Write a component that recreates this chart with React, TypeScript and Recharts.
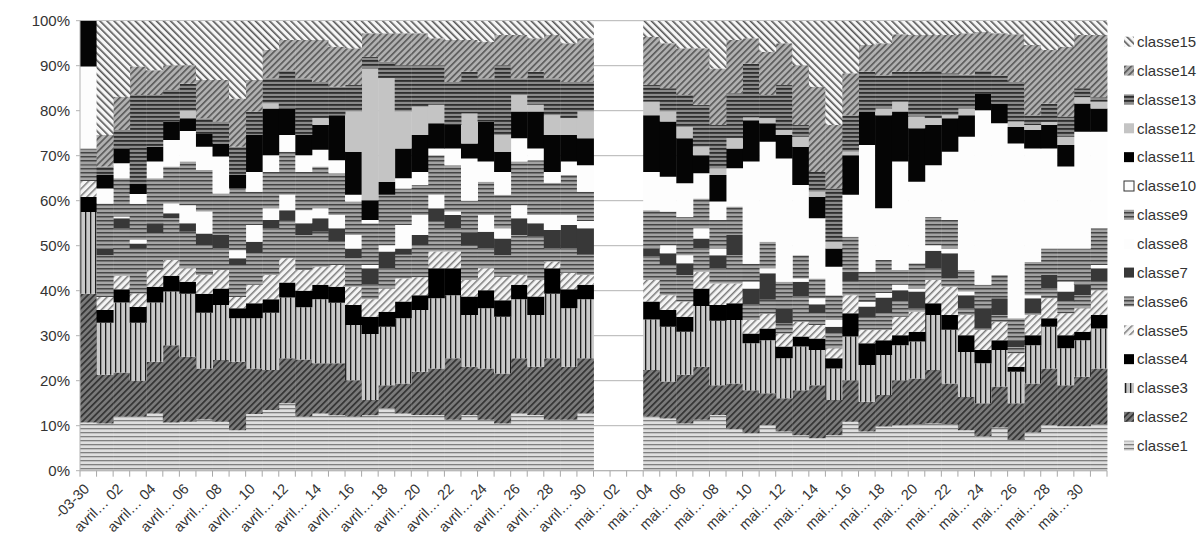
import { BarChart, Bar, XAxis, YAxis, CartesianGrid } from "recharts";

// one bar per day, 31 mars -> 31 mai (1-3 mai sans données)
const days = [
    "03-31",
    "04-01", "04-02", "04-03", "04-04", "04-05", "04-06", "04-07", "04-08", "04-09", "04-10",
    "04-11", "04-12", "04-13", "04-14", "04-15", "04-16", "04-17", "04-18", "04-19", "04-20",
    "04-21", "04-22", "04-23", "04-24", "04-25", "04-26", "04-27", "04-28", "04-29", "04-30",
    "05-01", "05-02", "05-03", "05-04", "05-05", "05-06", "05-07", "05-08", "05-09", "05-10",
    "05-11", "05-12", "05-13", "05-14", "05-15", "05-16", "05-17", "05-18", "05-19", "05-20",
    "05-21", "05-22", "05-23", "05-24", "05-25", "05-26", "05-27", "05-28", "05-29", "05-30",
    "05-31",
];

// shown under every second bar
const tickLabels = [
    "-03-30",
    "avril… 02", "avril… 04", "avril… 06", "avril… 08", "avril… 10",
    "avril… 12", "avril… 14", "avril… 16", "avril… 18", "avril… 20",
    "avril… 22", "avril… 24", "avril… 26", "avril… 28", "avril… 30",
    "mai… 02", "mai… 04", "mai… 06", "mai… 08", "mai… 10",
    "mai… 12", "mai… 14", "mai… 16", "mai… 18", "mai… 20",
    "mai… 22", "mai… 24", "mai… 26", "mai… 28", "mai… 30",
];

const yTicks = [0, 10, 20, 30, 40, 50, 60, 70, 80, 90, 100];

// cumulative share (%) reached at the top of each class
const top1 = [10.7, 10.5, 12.0, 12.0, 12.7, 10.7, 10.9, 11.4, 10.9, 9.0,
    12.6, 13.5, 15.0, 12.0, 12.7, 12.3, 12.0, 12.3, 13.9, 12.7,
    12.4, 12.4, 11.3, 12.4, 11.3, 10.5, 12.7, 12.4, 11.3, 11.3,
    12.7, null, null, null, 12.0, 11.6, 10.5, 11.3, 12.4, 9.2,
    8.3, 10.1, 8.7, 7.9, 7.2, 7.9, 10.9, 8.7, 9.8, 10.1,
    10.4, 10.5, 10.4, 9.0, 7.6, 9.6, 6.8, 8.5, 10.1, 9.9,
    9.9, 10.4];
const top2 = [39.3, 21.3, 21.8, 20.0, 24.2, 27.9, 25.3, 22.7, 24.6, 24.2,
    22.7, 22.4, 25.0, 24.7, 23.9, 23.9, 20.1, 15.7, 19.0, 19.4,
    22.0, 22.7, 25.0, 23.1, 22.7, 21.6, 25.0, 23.1, 25.0, 23.1,
    25.0, null, null, null, 22.4, 19.8, 21.3, 23.1, 19.0, 19.4,
    17.9, 17.2, 16.1, 17.9, 19.0, 15.7, 20.1, 15.3, 16.8, 20.1,
    20.5, 22.4, 19.4, 16.4, 15.0, 18.7, 15.0, 19.4, 22.7, 19.0,
    20.9, 22.7];
const top3 = [57.5, 32.9, 37.4, 32.9, 37.4, 39.8, 39.3, 35.1, 36.8, 33.9,
    33.9, 35.1, 38.5, 36.3, 38.1, 37.3, 32.4, 30.4, 32.0, 33.9,
    35.7, 38.3, 39.0, 34.6, 36.1, 34.2, 38.1, 34.6, 39.3, 36.1,
    38.1, null, null, null, 33.6, 32.0, 30.9, 36.6, 33.3, 33.5,
    28.3, 29.0, 25.0, 27.6, 26.8, 22.7, 29.8, 23.5, 25.7, 27.9,
    28.7, 34.6, 31.3, 26.4, 23.9, 26.8, 22.0, 27.9, 32.0, 27.2,
    29.0, 31.6];
const top4 = [60.8, 35.7, 40.3, 36.4, 40.9, 43.3, 42.0, 39.3, 40.5, 36.1,
    37.2, 38.1, 41.8, 40.0, 41.3, 40.9, 36.8, 34.2, 35.3, 37.6,
    39.0, 45.0, 45.0, 38.7, 40.1, 37.9, 41.3, 38.7, 45.0, 40.3,
    41.3, null, null, null, 37.6, 35.7, 34.2, 40.5, 36.8, 37.2,
    30.5, 31.6, 27.6, 29.8, 29.4, 25.0, 35.0, 28.3, 29.0, 30.1,
    30.9, 37.2, 34.6, 30.1, 26.8, 29.0, 23.1, 30.1, 33.9, 30.1,
    30.9, 34.6];
const top5 = [64.4, 38.6, 43.3, 39.4, 44.6, 46.8, 45.0, 43.5, 44.6, 38.6,
    41.3, 43.5, 47.2, 44.6, 45.3, 45.7, 40.9, 38.1, 40.5, 42.7,
    43.0, 48.7, 48.7, 42.4, 45.0, 43.1, 43.5, 42.4, 46.5, 44.0,
    43.5, null, null, null, 42.4, 39.0, 37.6, 44.2, 41.6, 41.6,
    33.5, 34.9, 30.5, 33.1, 32.4, 27.2, 39.0, 31.3, 31.3, 34.2,
    35.3, 42.4, 40.9, 34.6, 31.3, 33.1, 26.1, 34.6, 38.3, 35.0,
    36.1, 40.1];
const top6 = [68.0, 47.9, 53.9, 49.5, 52.7, 56.1, 53.1, 50.1, 49.4, 45.7,
    48.3, 53.9, 55.7, 52.4, 53.1, 50.9, 47.2, 41.3, 45.0, 48.0,
    50.1, 55.3, 53.9, 50.0, 49.4, 47.9, 52.4, 52.0, 49.4, 49.4,
    48.0, null, null, null, 47.6, 45.7, 43.5, 49.4, 45.0, 47.9,
    37.0, 38.0, 32.7, 38.7, 35.0, 30.5, 42.0, 34.0, 35.0, 37.6,
    36.1, 45.0, 42.7, 36.1, 31.6, 34.6, 27.5, 35.0, 40.5, 37.6,
    39.0, 42.0];
const top7 = [68.0, 49.4, 56.1, 50.5, 55.0, 57.2, 55.0, 52.7, 52.4, 47.2,
    50.9, 55.7, 57.9, 55.0, 56.1, 53.9, 49.4, 45.0, 48.7, 49.4,
    52.4, 58.3, 56.8, 53.0, 53.1, 51.6, 56.1, 55.0, 53.5, 54.6,
    53.9, null, null, null, 49.4, 48.3, 46.1, 51.6, 47.9, 52.4,
    40.5, 43.9, 36.1, 42.0, 37.0, 32.0, 44.2, 36.5, 38.5, 40.1,
    39.8, 48.9, 48.3, 39.0, 36.1, 38.3, 29.0, 38.3, 43.5, 39.8,
    41.3, 45.0];
const top8 = [68.0, 49.4, 56.5, 51.3, 55.0, 59.4, 59.0, 57.6, 52.4, 49.0,
    54.6, 58.3, 61.3, 57.9, 58.3, 56.8, 52.4, 45.7, 50.1, 54.6,
    56.8, 61.3, 57.6, 53.0, 56.8, 53.9, 59.0, 56.8, 56.8, 56.8,
    55.5, null, null, null, 49.4, 50.1, 47.9, 53.9, 49.4, 52.4,
    42.0, 45.0, 36.1, 42.7, 38.3, 33.5, 44.2, 37.5, 39.5, 41.3,
    40.5, 50.1, 49.4, 39.8, 36.1, 38.3, 29.0, 39.0, 43.5, 42.0,
    41.3, 45.7];
const top9 = [71.6, 59.4, 65.0, 59.3, 65.0, 67.6, 68.7, 66.8, 61.6, 62.7,
    62.0, 66.4, 70.9, 66.4, 67.6, 66.1, 59.8, 55.0, 61.3, 62.7,
    63.5, 70.1, 67.9, 60.0, 64.2, 61.3, 68.7, 69.0, 64.0, 65.7,
    62.0, null, null, null, 57.9, 57.6, 56.4, 60.5, 55.7, 58.7,
    46.0, 50.9, 42.0, 47.9, 42.7, 39.0, 52.0, 44.2, 46.8, 44.6,
    46.1, 56.4, 55.7, 44.6, 41.3, 43.5, 33.9, 46.4, 49.4, 49.4,
    49.4, 53.9];
const top10 = [89.8, 62.7, 68.3, 61.5, 68.7, 73.5, 75.5, 72.0, 69.8, 62.7,
    66.4, 70.1, 74.6, 70.1, 71.3, 69.0, 61.3, 55.7, 61.3, 65.0,
    66.4, 71.6, 71.6, 69.4, 68.7, 66.4, 73.9, 71.6, 66.4, 68.7,
    67.9, null, null, null, 66.4, 65.3, 63.9, 66.1, 59.8, 67.2,
    68.7, 73.1, 69.4, 63.5, 56.1, 45.3, 61.3, 72.4, 58.3, 68.7,
    64.2, 67.9, 70.9, 74.2, 80.1, 77.2, 72.7, 71.6, 71.6, 67.6,
    75.3, 75.3];
const top11 = [100, 65.7, 71.6, 63.7, 72.0, 77.6, 78.3, 75.0, 72.7, 65.7,
    74.6, 80.5, 80.5, 74.6, 76.8, 79.0, 70.9, 60.1, 64.2, 71.6,
    74.6, 77.2, 76.8, 72.7, 77.6, 70.9, 79.8, 79.8, 74.6, 74.6,
    73.9, null, null, null, 79.0, 77.6, 73.9, 70.1, 65.7, 71.6,
    77.9, 77.2, 74.6, 72.0, 60.9, 49.4, 70.1, 79.8, 79.0, 79.8,
    76.1, 76.8, 78.3, 79.0, 83.9, 81.6, 76.4, 75.7, 76.8, 72.4,
    81.6, 80.5];
const top12 = [100, 65.7, 71.6, 63.7, 72.0, 77.6, 80.0, 75.0, 72.7, 65.7,
    74.6, 81.6, 80.5, 74.6, 78.3, 79.0, 79.8, 89.4, 87.2, 79.8,
    80.9, 81.3, 76.8, 79.4, 77.6, 74.6, 83.5, 81.3, 79.0, 78.3,
    79.8, null, null, null, 82.0, 79.8, 76.4, 72.0, 67.2, 73.9,
    78.5, 78.3, 75.7, 74.2, 62.0, 50.9, 70.9, 79.8, 80.5, 82.0,
    78.7, 78.3, 79.0, 80.5, 83.9, 81.6, 77.6, 76.8, 77.5, 74.2,
    83.0, 82.0];
const top13 = [100, 67.6, 75.7, 83.5, 83.5, 84.6, 86.0, 78.3, 77.6, 72.0,
    79.8, 87.2, 89.0, 87.2, 86.4, 85.3, 85.7, 92.0, 90.9, 90.1,
    90.1, 90.1, 86.4, 88.7, 87.2, 90.1, 87.2, 88.7, 87.2, 86.4,
    86.4, null, null, null, 85.7, 85.0, 83.5, 81.3, 76.8, 83.9,
    90.5, 83.5, 85.7, 76.8, 66.4, 62.7, 79.0, 88.7, 87.9, 88.7,
    88.7, 89.0, 88.3, 88.0, 89.0, 87.9, 86.4, 79.0, 81.6, 78.7,
    85.0, 83.0];
const top14 = [100, 74.6, 83.1, 89.8, 89.0, 90.1, 90.1, 86.8, 86.8, 82.7,
    86.8, 93.5, 95.7, 95.7, 95.7, 94.2, 93.9, 97.2, 97.2, 97.2,
    97.2, 96.1, 95.7, 95.7, 95.3, 96.8, 96.8, 96.1, 96.8, 95.0,
    96.1, null, null, null, 96.4, 95.0, 93.9, 93.9, 89.4, 95.7,
    96.1, 93.1, 95.0, 90.1, 85.3, 76.8, 88.3, 94.6, 95.0, 97.0,
    96.8, 96.8, 96.8, 97.2, 97.5, 97.2, 97.0, 94.6, 93.5, 94.2,
    96.8, 96.8];

const classes = [
    "classe1", "classe2", "classe3", "classe4", "classe5", "classe6", "classe7", "classe8",
    "classe9", "classe10", "classe11", "classe12", "classe13", "classe14", "classe15",
];

const tops = [top1, top2, top3, top4, top5, top6, top7, top8, top9, top10, top11, top12, top13, top14];

// each class = its top minus the top of the class below; classe15 fills up to 100 %
const data = days.map((day, i) => {
    const row: Record<string, string | number> = { day };
    if (top1[i] === null) return row;
    let prev = 0;
    tops.forEach((serie, k) => {
        const t = serie[i] as number;
        row[classes[k]] = t - prev;
        prev = t;
    });
    row.classe15 = 100 - prev;
    return row;
});

const PLOT_LEFT = 80;
const PLOT_RIGHT = 1107;
const BAND = (PLOT_RIGHT - PLOT_LEFT) / days.length;

const DayTick = (props: any) => {
    const { x, y, payload } = props;
    const i = days.indexOf(payload.value);
    const label = i % 2 === 0 ? tickLabels[i / 2] : "";
    return (
        <g>
            <line x1={x - BAND / 2} x2={x - BAND / 2} y1={y} y2={y + 6} stroke="#a8a8a8" />
            {i === days.length - 1 && (
                <line x1={x + BAND / 2} x2={x + BAND / 2} y1={y} y2={y + 6} stroke="#a8a8a8" />
            )}
            {label && (
                <text
                    transform={`translate(${x + 2},${y + 19}) rotate(-45)`}
                    textAnchor="end"
                    fontSize={14.5}
                    fill="#333"
                >
                    {label}
                </text>
            )}
        </g>
    );
};

const App = () => {
    return (
        <div
            style={{
                position: "absolute",
                left: 0,
                top: 0,
                width: 1204,
                height: 548,
                background: "#fff",
                fontFamily: '"Liberation Sans", Arial, sans-serif',
            }}
        >
            <BarChart
                width={1204}
                height={548}
                data={data}
                margin={{ top: 20.7, right: 97, bottom: 0, left: 0 }}
                barCategoryGap={0}
                barGap={0}
            >
                <defs>
                    {/* classe1: light, horizontal lines */}
                    <pattern id="p1" width="4" height="4" patternUnits="userSpaceOnUse">
                        <rect width="4" height="4" fill="#dedede" />
                        <rect width="4" height="1.3" fill="#808080" />
                    </pattern>
                    {/* classe2: dark, / hatch */}
                    <pattern id="p2" width="4.5" height="4.5" patternUnits="userSpaceOnUse" patternTransform="rotate(45)">
                        <rect width="4.5" height="4.5" fill="#7a7a7a" />
                        <rect width="1.7" height="4.5" fill="#333" />
                    </pattern>
                    {/* classe3: vertical lines */}
                    <pattern id="p3" width="5" height="5" patternUnits="userSpaceOnUse">
                        <rect width="5" height="5" fill="#c8c8c8" />
                        <rect width="1.3" height="5" fill="#1c1c1c" />
                    </pattern>
                    {/* classe5: light, / hatch */}
                    <pattern id="p5" width="5" height="5" patternUnits="userSpaceOnUse" patternTransform="rotate(45)">
                        <rect width="5" height="5" fill="#f4f4f4" />
                        <rect width="1.5" height="5" fill="#7a7a7a" />
                    </pattern>
                    {/* classe6 / classe9: mid grey stripes */}
                    <pattern id="p6" width="4" height="4" patternUnits="userSpaceOnUse">
                        <rect width="4" height="4" fill="#a6a6a6" />
                        <rect width="4" height="1.5" fill="#484848" />
                    </pattern>
                    <pattern id="p9" width="4" height="4" patternUnits="userSpaceOnUse">
                        <rect width="4" height="4" fill="#a2a2a2" />
                        <rect width="4" height="1.5" fill="#444" />
                    </pattern>
                    {/* classe13: dark stripes */}
                    <pattern id="p13" width="4" height="4" patternUnits="userSpaceOnUse">
                        <rect width="4" height="4" fill="#8a8a8a" />
                        <rect width="4" height="1.8" fill="#2e2e2e" />
                    </pattern>
                    {/* classe14: grey, / hatch */}
                    <pattern id="p14" width="4.5" height="4.5" patternUnits="userSpaceOnUse" patternTransform="rotate(45)">
                        <rect width="4.5" height="4.5" fill="#b0b0b0" />
                        <rect width="1.6" height="4.5" fill="#585858" />
                    </pattern>
                    {/* classe15: light, \ hatch */}
                    <pattern id="p15" width="5" height="5" patternUnits="userSpaceOnUse" patternTransform="rotate(-45)">
                        <rect width="5" height="5" fill="#f6f6f6" />
                        <rect width="1.6" height="5" fill="#555" />
                    </pattern>
                </defs>

                <CartesianGrid vertical={false} stroke="#b3b3b3" />

                <XAxis
                    dataKey="day"
                    interval={0}
                    height={77.3}
                    tickSize={0}
                    tickMargin={0}
                    tickLine={false}
                    axisLine={{ stroke: "#b3b3b3" }}
                    tick={<DayTick />}
                />
                <YAxis
                    width={80}
                    domain={[0, 100]}
                    ticks={yTicks}
                    allowDataOverflow
                    tickFormatter={(v) => `${v}%`}
                    tick={{ fontSize: 15, fill: "#333" }}
                    tickSize={4}
                    tickMargin={6}
                    axisLine={{ stroke: "#b3b3b3" }}
                    tickLine={{ stroke: "#b3b3b3" }}
                />
                <YAxis
                    yAxisId="frame"
                    orientation="right"
                    width={0}
                    tick={false}
                    tickLine={false}
                    axisLine={{ stroke: "#b3b3b3" }}
                />

                <Bar dataKey="classe1" stackId="s" fill="url(#p1)" isAnimationActive={false} />
                <Bar dataKey="classe2" stackId="s" fill="url(#p2)" isAnimationActive={false} />
                <Bar dataKey="classe3" stackId="s" fill="url(#p3)" isAnimationActive={false} />
                <Bar dataKey="classe4" stackId="s" fill="#000" isAnimationActive={false} />
                <Bar dataKey="classe5" stackId="s" fill="url(#p5)" isAnimationActive={false} />
                <Bar dataKey="classe6" stackId="s" fill="url(#p6)" isAnimationActive={false} />
                <Bar dataKey="classe7" stackId="s" fill="#383838" isAnimationActive={false} />
                <Bar dataKey="classe8" stackId="s" fill="#fdfdfd" isAnimationActive={false} />
                <Bar dataKey="classe9" stackId="s" fill="url(#p9)" isAnimationActive={false} />
                <Bar dataKey="classe10" stackId="s" fill="#fdfdfd" isAnimationActive={false} />
                <Bar dataKey="classe11" stackId="s" fill="#050505" isAnimationActive={false} />
                <Bar dataKey="classe12" stackId="s" fill="#c4c4c4" isAnimationActive={false} />
                <Bar dataKey="classe13" stackId="s" fill="url(#p13)" isAnimationActive={false} />
                <Bar dataKey="classe14" stackId="s" fill="url(#p14)" isAnimationActive={false} />
                <Bar dataKey="classe15" stackId="s" fill="url(#p15)" isAnimationActive={false} />
            </BarChart>

            {/* Legend, classe15 on top */}
            <svg
                width={1204}
                height={548}
                style={{ position: "absolute", left: 0, top: 0, pointerEvents: "none" }}
            >
                {[...classes].reverse().map((name, j) => {
                    const k = classes.indexOf(name) + 1;
                    const cy = 41.7 + j * 28.86;
                    const fill =
                        k === 4 || k === 11 ? "#000" :
                        k === 7 ? "#383838" :
                        k === 8 || k === 10 ? "#fdfdfd" :
                        k === 12 ? "#c4c4c4" : `url(#p${k})`;
                    return (
                        <g key={name}>
                            <rect
                                x={1124}
                                y={cy - 5}
                                width={10}
                                height={10}
                                fill={fill}
                                stroke={k === 10 ? "#333" : "none"}
                            />
                            <text x={1137} y={cy} dy="0.35em" fontSize={15} fill="#333">
                                {name}
                            </text>
                        </g>
                    );
                })}
            </svg>
        </div>
    );
};

export default App;
